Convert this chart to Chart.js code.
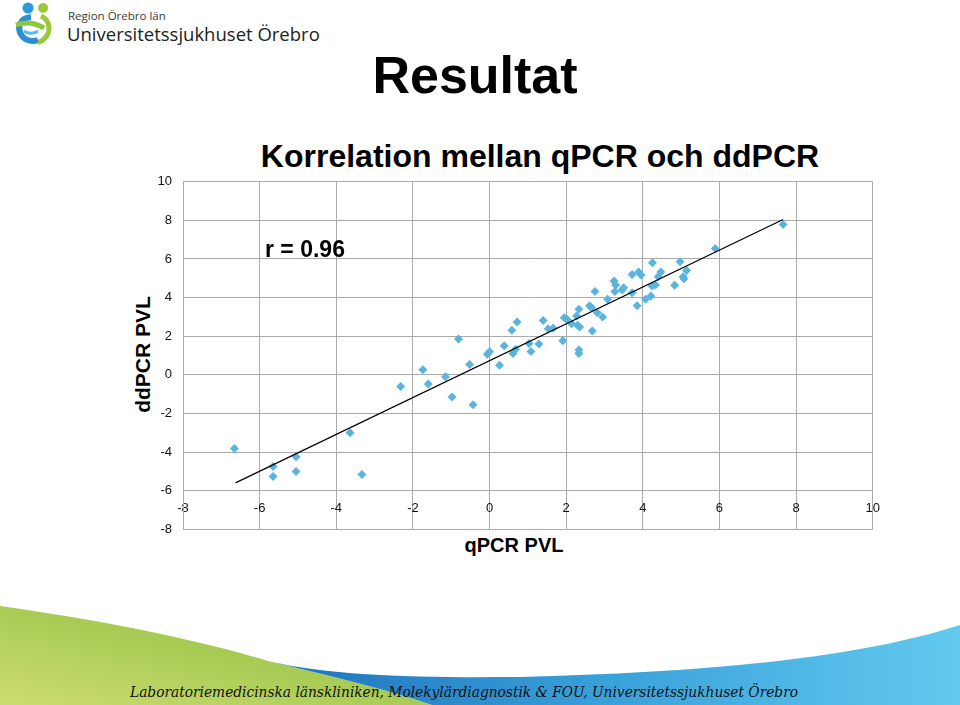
<!DOCTYPE html>
<html>
<head>
<meta charset="utf-8">
<script src="https://cdn.jsdelivr.net/npm/chart.js@4/dist/chart.umd.min.js"></script>
<style>
  body {
    margin: 0;
    width: 960px;
    height: 705px;
    position: relative;
    overflow: hidden;
    background: #fff;
    font-family: "Liberation Sans", Arial, sans-serif;
  }
  .abs { position: absolute; white-space: nowrap; }
  #logo-small { left: 68px; top: 8px; font: 11.5px "Open Sans", sans-serif; color: #3a3a3a; }
  #logo-big { left: 67px; top: 21px; font: 18.5px "Open Sans", sans-serif; color: #222; }
  #slide-title { left: 0; width: 950px; top: 49px; text-align: center; font-size: 52px; line-height: 52px; font-weight: bold; color: #000; }
  #chart-title { left: 140px; width: 800px; top: 140px; text-align: center; font-size: 32px; line-height: 32px; font-weight: bold; color: #000; }
  #r-label { left: 265px; top: 238px; font-size: 23px; line-height: 23px; font-weight: bold; color: #000; }
  #y-title { left: 42px; width: 200px; top: 344px; text-align: center; font-size: 21px; line-height: 21px; font-weight: bold; transform: rotate(-90deg); }
  #x-title { left: 414px; width: 200px; top: 535px; text-align: center; font-size: 20px; line-height: 20px; font-weight: bold; }
  #chart-wrap { position: absolute; left: 100px; top: 163px; width: 790px; height: 385px; }
</style>
</head>
<body>

<svg class="abs" style="left:0;top:0" width="66" height="50" viewBox="0 0 66 50">
  <circle cx="28" cy="8" r="5.5" fill="#2b9ad8"/>
  <circle cx="43" cy="8" r="5" fill="#9cc83c"/>
  <path d="M31 17 C 20 18, 16 28, 22 36 C 26 41, 33 42, 38 40" fill="none" stroke="#2a8fd2" stroke-width="6"/>
  <path d="M16 25 C 24 22, 34 22, 44 28" fill="none" stroke="#8dc63f" stroke-width="5"/>
  <path d="M41 16 C 50 20, 52 32, 44 39 C 42 41, 40 42, 38 42" fill="none" stroke="#9cc83c" stroke-width="5"/>
  <path d="M24 31 C 28 34, 34 34, 38 31" fill="none" stroke="#5bbbe8" stroke-width="3"/>
</svg>
<div id="logo-small" class="abs">Region Örebro län</div>
<div id="logo-big" class="abs">Universitetssjukhuset Örebro</div>

<div id="slide-title" class="abs">Resultat</div>
<div id="chart-title" class="abs">Korrelation mellan qPCR och ddPCR</div>
<div id="y-title" class="abs">ddPCR PVL</div>
<div id="x-title" class="abs">qPCR PVL</div>

<div id="chart-wrap"><canvas id="chart"></canvas></div>
<div id="r-label" class="abs">r = 0.96</div>

<svg class="abs" style="left:0;top:595px" width="960" height="110" viewBox="0 595 960 110">
  <defs>
    <linearGradient id="green" x1="0" y1="1" x2="1" y2="0">
      <stop offset="0" stop-color="#cddc72"/>
      <stop offset="1" stop-color="#84bb38"/>
    </linearGradient>
    <linearGradient id="blue" x1="0" y1="0" x2="1" y2="0">
      <stop offset="0" stop-color="#1f72bd"/>
      <stop offset="0.5" stop-color="#3aa2da"/>
      <stop offset="1" stop-color="#62caef"/>
    </linearGradient>
  </defs>
  <path d="M0 606 C 100 620, 200 640, 268 661 C 330 676, 390 690, 432 705 L 0 705 Z" fill="url(#green)"/>
  <path d="M268 661 C 330 676, 420 678, 520 677 C 700 672, 850 660, 960 625 L 960 705 L 432 705 C 390 690, 330 676, 268 661 Z" fill="url(#blue)"/>
  <text x="130" y="697" font-family="DejaVu Serif" font-style="italic" font-size="14" fill="#111"
        textLength="668" lengthAdjust="spacingAndGlyphs">Laboratoriemedicinska länskliniken, Molekylärdiagnostik &amp; FOU, Universitetssjukhuset Örebro</text>
</svg>

<script>
// values (log scale, both methods)
const qpcrPvl = [
  -6.66, -5.65, -5.65, -5.05, -5.05, -3.64, -3.33, -2.32, -1.74, -1.60,
  -1.15, -0.98, -0.81, -0.52, -0.43, -0.06, 0.00, 0.26, 0.38, 0.58,
  0.72, 0.61, 0.68, 1.03, 1.08, 1.29, 1.40, 1.53, 1.66, 1.91,
  1.95, 2.02, 2.14, 2.27, 2.33, 2.30, 2.35, 2.33, 2.33, 2.61,
  2.68, 2.66, 2.75, 2.81, 2.95, 3.08, 3.25, 3.29, 3.27, 3.46,
  3.50, 3.72, 3.72, 3.85, 3.89, 3.95, 4.07, 4.21, 4.25, 4.24,
  4.33, 4.40, 4.47, 4.83, 4.97, 5.05, 5.07, 5.14, 5.89, 7.66,
];
const ddpcrPvl = [
  -3.82, -4.75, -5.27, -4.24, -5.01, -3.00, -5.17, -0.60, 0.26, -0.48,
  -0.10, -1.15, 1.86, 0.53, -1.55, 1.07, 1.19, 0.50, 1.50, 2.31,
  2.74, 1.10, 1.33, 1.62, 1.21, 1.59, 2.81, 2.39, 2.41, 1.76,
  2.96, 2.88, 2.65, 3.05, 3.39, 2.57, 2.48, 1.28, 1.10, 3.58,
  2.27, 3.48, 4.31, 3.22, 3.00, 3.91, 4.86, 4.65, 4.31, 4.39,
  4.51, 5.20, 4.25, 3.58, 5.32, 5.17, 3.91, 4.08, 5.80, 4.60,
  4.65, 5.08, 5.32, 4.64, 5.86, 5.08, 4.98, 5.41, 6.55, 7.79,
];
// trendline end points
const trendQpcr = [-6.63, 7.66];
const trendDdpcr = [-5.60, 8.05];
const tickValues = [-8, -6, -4, -2, 0, 2, 4, 6, 8, 10];

const gridColor = "#aaaaaa";
const tickFont = { family: "'Liberation Sans', Arial, sans-serif", size: 13 };

const points = qpcrPvl.map((x, i) => ({ x, y: ddpcrPvl[i] }));
const trend = trendQpcr.map((x, i) => ({ x, y: trendDdpcr[i] }));

new Chart(document.getElementById("chart"), {
  type: "scatter",
  data: {
    datasets: [
      {
        label: "Trend",
        data: trend,
        showLine: true,
        borderColor: "#000",
        borderWidth: 1.2,
        pointRadius: 0,
        order: 0,
      },
      {
        label: "PVL",
        data: points,
        pointStyle: "rectRot",
        pointRadius: 4.5,
        borderWidth: 0,
        backgroundColor: "#5bb4dc",
        borderColor: "#5bb4dc",
        order: 1,
      },
    ],
  },
  options: {
    responsive: true,
    maintainAspectRatio: false,
    animation: false,
    layout: { padding: { left: 0, right: 15, top: 11, bottom: 12 } },
    plugins: {
      legend: { display: false },
      tooltip: { enabled: false },
    },
    scales: {
      x: {
        type: "linear",
        position: { y: -6 },
        min: tickValues[0],
        max: tickValues[tickValues.length - 1],
        ticks: { stepSize: 2, color: "#111", font: tickFont, padding: 10, maxRotation: 0 },
        grid: { color: gridColor, drawTicks: false },
        border: { color: gridColor },
        afterFit: (scale) => { scale.height = 0; },
      },
      y: {
        type: "linear",
        position: "left",
        min: tickValues[0],
        max: tickValues[tickValues.length - 1],
        ticks: { stepSize: 2, color: "#111", font: tickFont, padding: 11 },
        grid: { color: gridColor, drawTicks: false },
        border: { color: gridColor },
        afterFit: (scale) => { scale.width = 83; },
      },
    },
  },
});
</script>
</body>
</html>
